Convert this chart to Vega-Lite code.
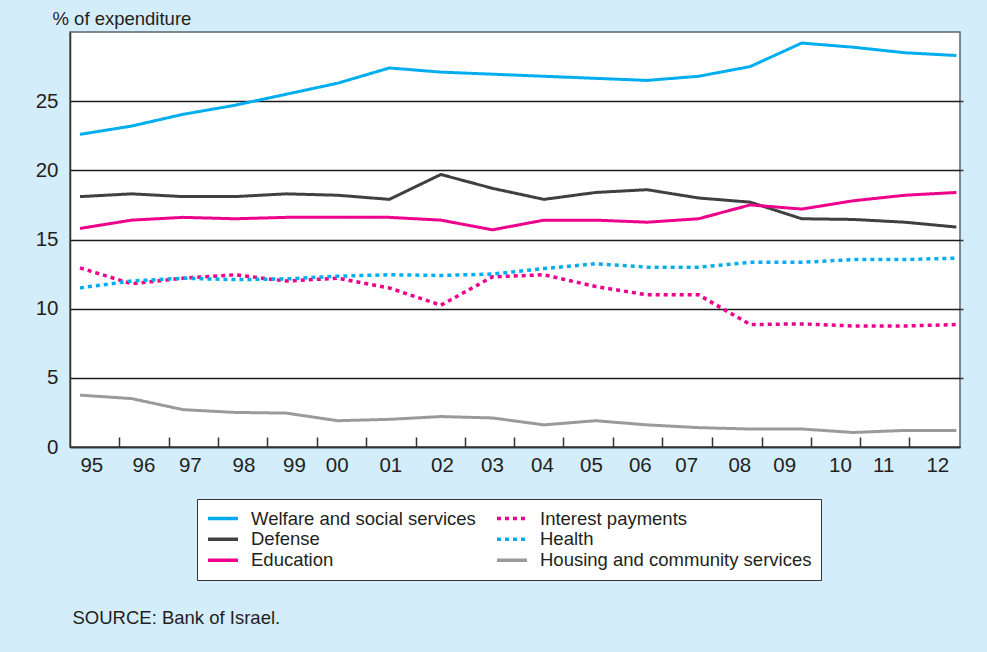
{
  "$schema": "https://vega.github.io/schema/vega-lite/v6.json",
  "width": 890,
  "height": 415,
  "autosize": {"type": "none"},
  "padding": {"left": 70, "top": 32, "right": 27, "bottom": 205},
  "background": "#d4edfa",
  "config": {
    "font": "Liberation Sans",
    "view": {"stroke": "#5a646c", "strokeWidth": 1.5, "fill": "white"}
  },
  "data": {
    "values": [
      {"year": 1995, "series": "Welfare and social services", "value": 22.6},
      {"year": 1996, "series": "Welfare and social services", "value": 23.2},
      {"year": 1997, "series": "Welfare and social services", "value": 24.05},
      {"year": 1998, "series": "Welfare and social services", "value": 24.7},
      {"year": 1999, "series": "Welfare and social services", "value": 25.5},
      {"year": 2000, "series": "Welfare and social services", "value": 26.3},
      {"year": 2001, "series": "Welfare and social services", "value": 27.4},
      {"year": 2002, "series": "Welfare and social services", "value": 27.1},
      {"year": 2003, "series": "Welfare and social services", "value": 26.95},
      {"year": 2004, "series": "Welfare and social services", "value": 26.8},
      {"year": 2005, "series": "Welfare and social services", "value": 26.65},
      {"year": 2006, "series": "Welfare and social services", "value": 26.5},
      {"year": 2007, "series": "Welfare and social services", "value": 26.8},
      {"year": 2008, "series": "Welfare and social services", "value": 27.5},
      {"year": 2009, "series": "Welfare and social services", "value": 29.2},
      {"year": 2010, "series": "Welfare and social services", "value": 28.9},
      {"year": 2011, "series": "Welfare and social services", "value": 28.5},
      {"year": 2012, "series": "Welfare and social services", "value": 28.3},
      {"year": 1995, "series": "Defense", "value": 18.1},
      {"year": 1996, "series": "Defense", "value": 18.3},
      {"year": 1997, "series": "Defense", "value": 18.1},
      {"year": 1998, "series": "Defense", "value": 18.1},
      {"year": 1999, "series": "Defense", "value": 18.3},
      {"year": 2000, "series": "Defense", "value": 18.2},
      {"year": 2001, "series": "Defense", "value": 17.9},
      {"year": 2002, "series": "Defense", "value": 19.7},
      {"year": 2003, "series": "Defense", "value": 18.7},
      {"year": 2004, "series": "Defense", "value": 17.9},
      {"year": 2005, "series": "Defense", "value": 18.4},
      {"year": 2006, "series": "Defense", "value": 18.6},
      {"year": 2007, "series": "Defense", "value": 18.0},
      {"year": 2008, "series": "Defense", "value": 17.7},
      {"year": 2009, "series": "Defense", "value": 16.5},
      {"year": 2010, "series": "Defense", "value": 16.45},
      {"year": 2011, "series": "Defense", "value": 16.25},
      {"year": 2012, "series": "Defense", "value": 15.9},
      {"year": 1995, "series": "Education", "value": 15.8},
      {"year": 1996, "series": "Education", "value": 16.4},
      {"year": 1997, "series": "Education", "value": 16.6},
      {"year": 1998, "series": "Education", "value": 16.5},
      {"year": 1999, "series": "Education", "value": 16.6},
      {"year": 2000, "series": "Education", "value": 16.6},
      {"year": 2001, "series": "Education", "value": 16.6},
      {"year": 2002, "series": "Education", "value": 16.4},
      {"year": 2003, "series": "Education", "value": 15.7},
      {"year": 2004, "series": "Education", "value": 16.4},
      {"year": 2005, "series": "Education", "value": 16.4},
      {"year": 2006, "series": "Education", "value": 16.25},
      {"year": 2007, "series": "Education", "value": 16.5},
      {"year": 2008, "series": "Education", "value": 17.5},
      {"year": 2009, "series": "Education", "value": 17.2},
      {"year": 2010, "series": "Education", "value": 17.8},
      {"year": 2011, "series": "Education", "value": 18.2},
      {"year": 2012, "series": "Education", "value": 18.4},
      {"year": 1995, "series": "Interest payments", "value": 12.95},
      {"year": 1996, "series": "Interest payments", "value": 11.8},
      {"year": 1997, "series": "Interest payments", "value": 12.2},
      {"year": 1998, "series": "Interest payments", "value": 12.45},
      {"year": 1999, "series": "Interest payments", "value": 12.0},
      {"year": 2000, "series": "Interest payments", "value": 12.2},
      {"year": 2001, "series": "Interest payments", "value": 11.5},
      {"year": 2002, "series": "Interest payments", "value": 10.25},
      {"year": 2003, "series": "Interest payments", "value": 12.3},
      {"year": 2004, "series": "Interest payments", "value": 12.45},
      {"year": 2005, "series": "Interest payments", "value": 11.6},
      {"year": 2006, "series": "Interest payments", "value": 11.0},
      {"year": 2007, "series": "Interest payments", "value": 11.0},
      {"year": 2008, "series": "Interest payments", "value": 8.85},
      {"year": 2009, "series": "Interest payments", "value": 8.9},
      {"year": 2010, "series": "Interest payments", "value": 8.75},
      {"year": 2011, "series": "Interest payments", "value": 8.75},
      {"year": 2012, "series": "Interest payments", "value": 8.85},
      {"year": 1995, "series": "Health", "value": 11.5},
      {"year": 1996, "series": "Health", "value": 12.0},
      {"year": 1997, "series": "Health", "value": 12.2},
      {"year": 1998, "series": "Health", "value": 12.1},
      {"year": 1999, "series": "Health", "value": 12.15},
      {"year": 2000, "series": "Health", "value": 12.35},
      {"year": 2001, "series": "Health", "value": 12.45},
      {"year": 2002, "series": "Health", "value": 12.4},
      {"year": 2003, "series": "Health", "value": 12.5},
      {"year": 2004, "series": "Health", "value": 12.9},
      {"year": 2005, "series": "Health", "value": 13.25},
      {"year": 2006, "series": "Health", "value": 13.0},
      {"year": 2007, "series": "Health", "value": 13.0},
      {"year": 2008, "series": "Health", "value": 13.35},
      {"year": 2009, "series": "Health", "value": 13.35},
      {"year": 2010, "series": "Health", "value": 13.55},
      {"year": 2011, "series": "Health", "value": 13.55},
      {"year": 2012, "series": "Health", "value": 13.65},
      {"year": 1995, "series": "Housing and community services", "value": 3.75},
      {"year": 1996, "series": "Housing and community services", "value": 3.5},
      {"year": 1997, "series": "Housing and community services", "value": 2.7},
      {"year": 1998, "series": "Housing and community services", "value": 2.5},
      {"year": 1999, "series": "Housing and community services", "value": 2.45},
      {"year": 2000, "series": "Housing and community services", "value": 1.9},
      {"year": 2001, "series": "Housing and community services", "value": 2.0},
      {"year": 2002, "series": "Housing and community services", "value": 2.2},
      {"year": 2003, "series": "Housing and community services", "value": 2.1},
      {"year": 2004, "series": "Housing and community services", "value": 1.6},
      {"year": 2005, "series": "Housing and community services", "value": 1.9},
      {"year": 2006, "series": "Housing and community services", "value": 1.6},
      {"year": 2007, "series": "Housing and community services", "value": 1.4},
      {"year": 2008, "series": "Housing and community services", "value": 1.3},
      {"year": 2009, "series": "Housing and community services", "value": 1.3},
      {"year": 2010, "series": "Housing and community services", "value": 1.05},
      {"year": 2011, "series": "Housing and community services", "value": 1.2},
      {"year": 2012, "series": "Housing and community services", "value": 1.2}
    ]
  },
  "encoding": {
    "color": {
      "field": "series",
      "type": "nominal",
      "scale": {
        "domain": ["Welfare and social services", "Defense", "Education", "Interest payments", "Health", "Housing and community services"],
        "range": ["#00aeef", "#404040", "#ec008c", "#ec008c", "#00aeef", "#9a9a9a"]
      },
      "legend": {
        "orient": "none",
        "legendX": 127,
        "legendY": 467,
        "columns": 2,
        "title": null,
        "symbolType": "stroke",
        "symbolSize": 900,
        "symbolStrokeWidth": 3.5,
        "labelFontSize": 18.5,
        "labelColor": "#231f20",
        "labelOffset": 11,
        "labelLimit": 400,
        "columnPadding": 19,
        "rowPadding": 0,
        "clipHeight": 20.5,
        "padding": 9,
        "strokeColor": "#333333",
        "fillColor": "white"
      }
    },
    "strokeDash": {
      "field": "series",
      "type": "nominal",
      "scale": {
        "domain": ["Welfare and social services", "Defense", "Education", "Interest payments", "Health", "Housing and community services"],
        "range": [[1, 0], [1, 0], [1, 0], [4, 4], [4, 4], [1, 0]]
      },
      "legend": {
        "orient": "none",
        "legendX": 127,
        "legendY": 467,
        "columns": 2,
        "title": null,
        "symbolType": "stroke",
        "symbolSize": 900,
        "symbolStrokeWidth": 3.5,
        "labelFontSize": 18.5,
        "labelColor": "#231f20",
        "labelOffset": 11,
        "labelLimit": 400,
        "columnPadding": 19,
        "rowPadding": 0,
        "clipHeight": 20.5,
        "padding": 9,
        "strokeColor": "#333333",
        "fillColor": "white"
      }
    }
  },
  "layer": [
    {
      "transform": [{"filter": "datum.series !== 'Interest payments' && datum.series !== 'Health'"}],
      "mark": {"type": "line", "strokeWidth": 3, "strokeCap": "butt"},
      "encoding": {
        "x": {
          "field": "year",
          "type": "quantitative",
          "scale": {"domain": [1994.806, 2012.07], "nice": false, "zero": false},
          "axis": {
            "orient": "bottom",
            "title": null,
            "values": [1995.22, 1996.23, 1997.13, 1998.17, 1999.15, 1999.98, 2001.02, 2002.02, 2002.99, 2003.96, 2004.91, 2005.86, 2006.76, 2007.79, 2008.66, 2009.74, 2010.58, 2011.63],
            "labelExpr": "substring(toString(round(datum.value)), 2, 4)",
            "ticks": false,
            "tickSize": 0,
            "grid": false,
            "domain": true,
            "domainColor": "#333333",
            "domainWidth": 1.5,
            "labelFontSize": 20.5,
            "labelColor": "#231f20",
            "labelPadding": 8,
            "labelFlush": false,
            "labelOverlap": false
          }
        },
        "y": {
          "field": "value",
          "type": "quantitative",
          "scale": {"domain": [0, 30], "nice": false, "zero": true},
          "axis": {
            "orient": "left",
            "values": [0, 5, 10, 15, 20, 25],
            "title": "% of expenditure",
            "titleAngle": 0,
            "titleAlign": "left",
            "titleBaseline": "middle",
            "titleX": -18,
            "titleY": -14,
            "titleFontSize": 18.5,
            "titleFontWeight": "normal",
            "titleColor": "#231f20",
            "grid": true,
            "gridColor": "#1a1a1a",
            "gridWidth": 1.5,
            "ticks": false,
            "tickSize": 0,
            "domain": true,
            "domainColor": "#333333",
            "domainWidth": 1.5,
            "labelFontSize": 20.5,
            "labelColor": "#231f20",
            "labelPadding": 12
          }
        }
      }
    },
    {
      "transform": [{"filter": "datum.series === 'Interest payments' || datum.series === 'Health'"}],
      "mark": {"type": "line", "strokeWidth": 3.5, "strokeCap": "butt"},
      "encoding": {
        "x": {
          "field": "year",
          "type": "quantitative",
          "axis": {
            "orient": "bottom",
            "title": "SOURCE: Bank of Israel.",
            "titleX": 2,
            "titleY": 170,
            "titleAlign": "left",
            "titleBaseline": "middle",
            "titleFontSize": 18.5,
            "titleFontWeight": "normal",
            "titleColor": "#231f20",
            "values": [1995.757, 1996.717, 1997.677, 1998.637, 1999.597, 2000.548, 2001.518, 2002.469, 2003.419, 2004.37, 2005.34, 2006.29, 2007.26, 2008.23, 2009.18, 2010.131, 2011.082],
            "labels": false,
            "domain": false,
            "grid": false,
            "ticks": true,
            "tickSize": -10,
            "tickWidth": 1.5,
            "tickColor": "#333333"
          }
        },
        "y": {
          "field": "value",
          "type": "quantitative",
          "axis": {
            "orient": "right",
            "title": null,
            "values": [5, 10, 15, 20, 25],
            "labels": false,
            "domain": false,
            "grid": false,
            "ticks": true,
            "tickSize": 3,
            "tickWidth": 1.5,
            "tickColor": "#333333"
          }
        }
      }
    }
  ],
  "resolve": {"axis": {"x": "independent", "y": "independent"}}
}
